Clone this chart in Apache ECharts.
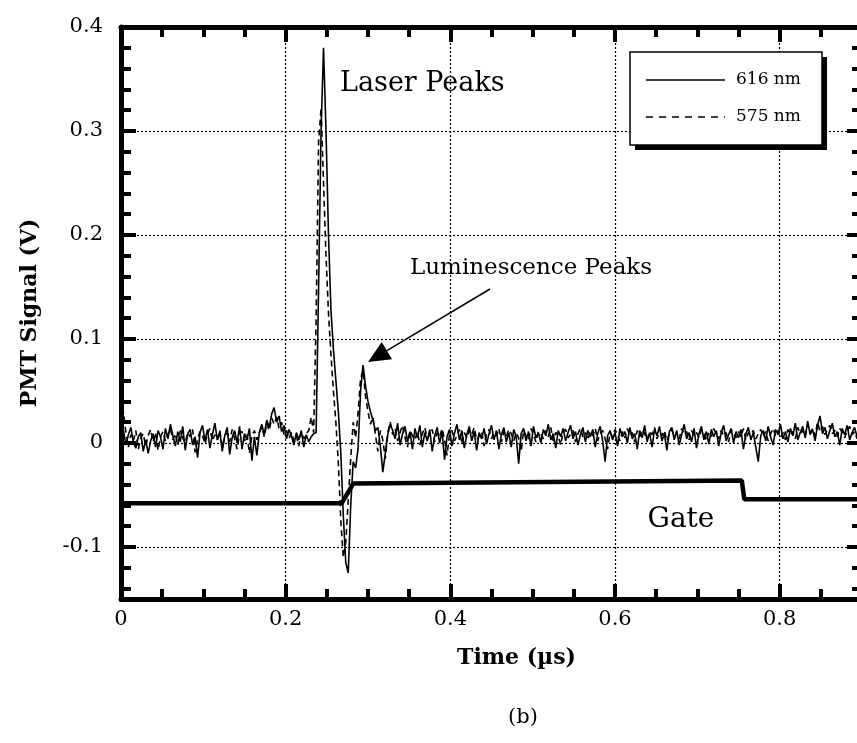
<!DOCTYPE html>
<html><head><meta charset="utf-8">
<script src="https://cdn.jsdelivr.net/npm/echarts/dist/echarts.min.js"></script>
<style>html,body{margin:0;padding:0;background:#fff}#c{width:857px;height:743px}</style>
</head><body><div id="c"></div>
<script>
// ---- data ----
const timeStep = 0.003; // sampling interval of the PMT traces, µs (trace i is at t = i * timeStep)
const signal616 = [
 0.004, 0.012,-0.002, 0.008, 0.015, 0.001,-0.005, 0.006, 0.010,-0.008,
 0.003,-0.010, 0.002, 0.009,-0.004, 0.012, 0.006,-0.006, 0.014, 0.004,
 0.018, 0.007,-0.003, 0.011, 0.001, 0.016,-0.007, 0.009, 0.013,-0.002,
 0.006,-0.014, 0.010, 0.017, 0.002, 0.013,-0.005, 0.008, 0.019, 0.003,
 0.011,-0.008, 0.007, 0.015,-0.011, 0.005, 0.012, 0.000, 0.016,-0.006,
 0.009, 0.003, 0.014,-0.017, 0.006,-0.012, 0.010, 0.018, 0.008, 0.022,
 0.015, 0.028, 0.034, 0.020, 0.026, 0.011, 0.017, 0.004, 0.013, 0.007,
-0.002, 0.010, 0.003, 0.012,-0.004, 0.008, 0.001, 0.006, 0.009,
 0.010, 0.150, 0.300, 0.380, 0.300, 0.200, 0.128, 0.090, 0.060, 0.030,-0.010,
-0.070,-0.115,-0.125,-0.060,-0.018,-0.024,-0.005, 0.050, 0.075, 0.055,
 0.040, 0.030, 0.022, 0.012, 0.015,-0.003,-0.028,-0.010, 0.008, 0.018,
 0.012, 0.004, 0.019,-0.002, 0.009, 0.016, 0.001, 0.011,-0.006, 0.014,
 0.005, 0.017,-0.004, 0.010, 0.002, 0.013,-0.008, 0.007, 0.015, 0.000,
 0.011,-0.016, 0.006, 0.013,-0.003, 0.009, 0.018, 0.003, 0.012,-0.005,
 0.008, 0.016, 0.002, 0.011,-0.007, 0.010, 0.004, 0.014,-0.001, 0.009,
 0.017, 0.003, 0.012,-0.006, 0.008, 0.015, 0.001, 0.010,-0.004, 0.013,
 0.006,-0.020, 0.009, 0.014, 0.002, 0.011,-0.003, 0.016, 0.005, 0.010,
 0.000, 0.013, 0.007, 0.018, 0.003, 0.009,-0.005, 0.012, 0.006, 0.014,
 0.002, 0.010, 0.017, 0.004, 0.011,-0.002, 0.008, 0.015, 0.001, 0.012,
 0.006, 0.013,-0.004, 0.009, 0.016, 0.002,-0.018, 0.007, 0.012, 0.003,
 0.010,-0.003, 0.014, 0.006, 0.011, 0.000, 0.015, 0.004, 0.009,-0.006,
 0.012, 0.005, 0.017, 0.001, 0.010,-0.004, 0.013, 0.007, 0.016, 0.002,
 0.009,-0.007, 0.011, 0.015, 0.003, 0.012,-0.002, 0.008, 0.018, 0.004,
 0.010, 0.001, 0.014,-0.005, 0.009, 0.016, 0.003, 0.011,-0.001, 0.013,
 0.006, 0.012,-0.003, 0.010, 0.017, 0.002, 0.008, 0.014, 0.000, 0.011,
 0.005, 0.013,-0.006, 0.009, 0.015, 0.003, 0.010,-0.004,-0.018, 0.007,
 0.012, 0.002, 0.016, 0.006,-0.002, 0.013, 0.008, 0.018, 0.004, 0.011,
 0.001, 0.014, 0.007, 0.019, 0.003, 0.010, 0.016, 0.005, 0.021, 0.008,
 0.013, 0.002, 0.017, 0.026, 0.009, 0.015, 0.004, 0.012, 0.019, 0.006,
 0.011,-0.002, 0.014, 0.008, 0.017, 0.003, 0.010, 0.015, 0.006, 0.012,
 0.009
];
const signal575 = [
 0.006, 0.030, 0.010,-0.004, 0.008, 0.002, 0.012,-0.006, 0.005, 0.009,
-0.003, 0.007, 0.013, 0.001, 0.010,-0.007, 0.006, 0.011, 0.002, 0.008,
 0.014, 0.003, 0.009,-0.002, 0.012, 0.005, 0.000, 0.010, 0.006, 0.013,
-0.009, 0.004, 0.011, 0.007,-0.001, 0.009, 0.014, 0.002, 0.008, 0.003,
 0.012,-0.004, 0.006, 0.010, 0.001, 0.013, 0.004,-0.006, 0.009, 0.011,
 0.002, 0.008,-0.010, 0.007, 0.012, 0.003, 0.010, 0.015, 0.006, 0.019,
 0.012, 0.024, 0.018, 0.025, 0.014, 0.020, 0.008, 0.012, 0.004, 0.010,
 0.002, 0.007,-0.003, 0.011, 0.004, 0.009, 0.012,
 0.025, 0.010, 0.120, 0.290, 0.322, 0.250, 0.180, 0.125, 0.085, 0.050,
 0.020,-0.020,-0.075,-0.110,-0.095,-0.055,-0.015, 0.020, 0.005, 0.030,
 0.062, 0.070, 0.045, 0.030, 0.018, 0.025, 0.008,-0.008, 0.012, 0.003,
-0.015, 0.010, 0.020,
 0.008, 0.014, 0.002, 0.010, 0.017, 0.005,-0.004, 0.012, 0.007, 0.003,
 0.011,-0.002, 0.009, 0.015, 0.004, 0.008, 0.013, 0.001, 0.010, 0.006,
 0.014, 0.003,-0.012, 0.009, 0.012, 0.002, 0.007, 0.013,-0.001, 0.010,
 0.005, 0.012, 0.008, 0.015, 0.003, 0.007, 0.011,-0.003, 0.009, 0.013,
 0.004, 0.010, 0.007, 0.014, 0.001, 0.011, 0.006, 0.013, 0.009, 0.002,
 0.010, 0.005,-0.008, 0.012, 0.007, 0.003, 0.014, 0.008, 0.001, 0.011,
 0.009, 0.004, 0.012, 0.006, 0.015, 0.002, 0.010, 0.007,-0.002, 0.011,
 0.013, 0.005, 0.008, 0.012, 0.001, 0.009, 0.014, 0.006, 0.010, 0.003,
 0.011, 0.007, 0.014, 0.002, 0.009, 0.012, 0.004,-0.006, 0.010, 0.006,
 0.013, 0.008, 0.002, 0.011, 0.005, 0.014, 0.007, 0.010, 0.001, 0.012,
 0.006, 0.013, 0.009, 0.003, 0.011, 0.008, 0.015, 0.004, 0.010, 0.007,
 0.012, 0.002, 0.009, 0.013, 0.006, 0.010, 0.004, 0.014, 0.008, 0.011,
 0.003, 0.012, 0.007, 0.010, 0.005, 0.013, 0.009, 0.002, 0.011, 0.006,
 0.014, 0.008, 0.004, 0.012, 0.007, 0.010, 0.001, 0.013, 0.009, 0.005,
 0.011, 0.006, 0.014, 0.003, 0.010, 0.008, 0.012, 0.004, 0.009, 0.013,
 0.006, 0.011, 0.002, 0.009, 0.014, 0.007, 0.012, 0.005, 0.010, 0.003,
 0.013, 0.008, 0.011, 0.004, 0.015, 0.009, 0.012, 0.006, 0.018, 0.010,
 0.014, 0.007, 0.020, 0.011, 0.016, 0.008, 0.013, 0.017, 0.009, 0.012,
 0.006, 0.014, 0.010, 0.005, 0.012, 0.016, 0.008, 0.011, 0.004, 0.013,
 0.010
];
const gateTimes  = [0, 0.268, 0.282, 0.754, 0.757, 0.9];
const gateValues = [-0.058, -0.058, -0.039, -0.036, -0.054, -0.054];
const xTickValues = [0, 0.2, 0.4, 0.6, 0.8];
const yTickValues = [-0.1, 0, 0.1, 0.2, 0.3, 0.4];
const seriesNames = ['616 nm', '575 nm', 'Gate'];

// ---- build ----
const toPairs = arr => arr.map((v, i) => [Number((i * timeStep).toFixed(4)), v]);
const gatePairs = gateTimes.map((t, i) => [t, gateValues[i]]);
const FONT = 'DejaVu Serif';
const near = (v, list) => list.some(x => Math.abs(x - v) < 1e-6);

const axisCommon = {
  type: 'value',
  axisLine: { show: true, onZero: false, lineStyle: { color: '#000', width: 5 } },
  axisTick: { show: true, inside: true, length: 15, lineStyle: { color: '#000', width: 4 } },
  minorTick: { show: true, length: 10, lineStyle: { color: '#000', width: 4 } },
  splitLine: { show: false }
};

const chart = echarts.init(document.getElementById('c'), null, { renderer: 'canvas' });

const arrowTip = [368, 362], arrowStart = [490, 289];
const dx = arrowStart[0] - arrowTip[0], dy = arrowStart[1] - arrowTip[1];
const L = Math.hypot(dx, dy), ux = dx / L, uy = dy / L;
const headLen = 22, headHalf = 10;
const bx = arrowTip[0] + ux * headLen, by = arrowTip[1] + uy * headLen;

chart.setOption({
  backgroundColor: '#fff',
  animation: false,
  textStyle: { fontFamily: FONT, color: '#000' },
  grid: { left: 121, right: -5, top: 27, bottom: 144, outerBoundsMode: 'none', containLabel: false },
  xAxis: [
    Object.assign({}, axisCommon, {
      position: 'bottom', min: 0, max: 0.9, splitNumber: 5,
      minorTick: Object.assign({}, axisCommon.minorTick, { splitNumber: 4 }),
      axisLabel: { show: true, margin: 10, fontSize: 21, fontFamily: FONT, color: '#000',
        showMaxLabel: false,
        formatter: v => near(v, xTickValues) ? String(Number(v.toFixed(2))) : '' },
      splitLine: { show: true, lineStyle: { color: '#000', width: 1.2, type: [2, 2] } },
      name: 'Time (µs)', nameLocation: 'middle', nameGap: 48,
      nameTextStyle: { fontFamily: FONT, fontWeight: 'bold', fontSize: 22, color: '#000', padding: [0, 0, 0, 50] }
    }),
    Object.assign({}, axisCommon, {
      position: 'top', min: 0, max: 0.9, splitNumber: 5,
      minorTick: Object.assign({}, axisCommon.minorTick, { splitNumber: 4 }),
      axisLabel: { show: false }
    })
  ],
  yAxis: [
    Object.assign({}, axisCommon, {
      position: 'left', min: -0.15, max: 0.4, splitNumber: 5,
      minorTick: Object.assign({}, axisCommon.minorTick, { splitNumber: 5 }),
      axisLabel: { show: true, margin: 18, fontSize: 21, fontFamily: FONT, color: '#000',
        showMinLabel: false,
        formatter: v => near(v, yTickValues) ? String(Number(v.toFixed(2))) : '' },
      splitLine: { show: true, lineStyle: { color: '#000', width: 1.2, type: [2, 2] } },
      name: 'PMT Signal (V)', nameLocation: 'middle', nameGap: 80, nameRotate: 90,
      nameTextStyle: { fontFamily: FONT, fontWeight: 'bold', fontSize: 22, color: '#000' }
    }),
    Object.assign({}, axisCommon, {
      position: 'right', min: -0.15, max: 0.4, splitNumber: 5,
      minorTick: Object.assign({}, axisCommon.minorTick, { splitNumber: 5 }),
      axisLabel: { show: false }
    })
  ],
  series: [
    { name: seriesNames[1], type: 'line', xAxisIndex: 0, yAxisIndex: 0, data: toPairs(signal575),
      symbol: 'none', lineStyle: { color: '#000', width: 1.6, type: [6, 4] }, z: 3 },
    { name: seriesNames[0], type: 'line', xAxisIndex: 0, yAxisIndex: 0, data: toPairs(signal616),
      symbol: 'none', lineStyle: { color: '#000', width: 1.6 }, z: 4 },
    { name: seriesNames[2], type: 'line', xAxisIndex: 0, yAxisIndex: 0, data: gatePairs,
      symbol: 'none', lineStyle: { color: '#000', width: 4.5 }, z: 5 }
  ],
  graphic: [
    // legend box with drop shadow
    { type: 'rect', shape: { x: 635, y: 57, width: 192, height: 93 }, style: { fill: '#000' }, z: 100 },
    { type: 'rect', shape: { x: 630, y: 52, width: 192, height: 93 }, style: { fill: '#fff', stroke: '#000', lineWidth: 1.5 }, z: 101 },
    { type: 'line', shape: { x1: 646, y1: 80, x2: 725, y2: 80 }, style: { stroke: '#000', lineWidth: 1.4 }, z: 102 },
    { type: 'line', shape: { x1: 646, y1: 117, x2: 725, y2: 117 }, style: { stroke: '#000', lineWidth: 1.4, lineDash: [7, 6] }, z: 102 },
    { type: 'text', x: 736, y: 80, style: { text: seriesNames[0], font: '17px "DejaVu Serif"', fill: '#000', verticalAlign: 'middle' }, z: 102 },
    { type: 'text', x: 736, y: 117, style: { text: seriesNames[1], font: '17px "DejaVu Serif"', fill: '#000', verticalAlign: 'middle' }, z: 102 },
    // annotations
    { type: 'text', x: 340, y: 84, style: { text: 'Laser Peaks', font: '27px "DejaVu Serif"', fill: '#000', verticalAlign: 'middle' }, z: 102 },
    { type: 'text', x: 410, y: 268, style: { text: 'Luminescence Peaks', font: '23px "DejaVu Serif"', fill: '#000', verticalAlign: 'middle' }, z: 102 },
    { type: 'text', x: 681, y: 520, style: { text: 'Gate', font: '28px "DejaVu Serif"', fill: '#000', align: 'center', verticalAlign: 'middle' }, z: 102 },
    { type: 'line', shape: { x1: arrowStart[0], y1: arrowStart[1], x2: bx, y2: by }, style: { stroke: '#000', lineWidth: 1.5 }, z: 102 },
    { type: 'polygon', shape: { points: [arrowTip, [bx - uy * headHalf, by + ux * headHalf], [bx + uy * headHalf, by - ux * headHalf]] },
      style: { fill: '#000' }, z: 102 },
    { type: 'text', x: 523, y: 718, style: { text: '(b)', font: '21px "DejaVu Serif"', fill: '#000', align: 'center', verticalAlign: 'middle' }, z: 102 }
  ]
});
</script></body></html>
